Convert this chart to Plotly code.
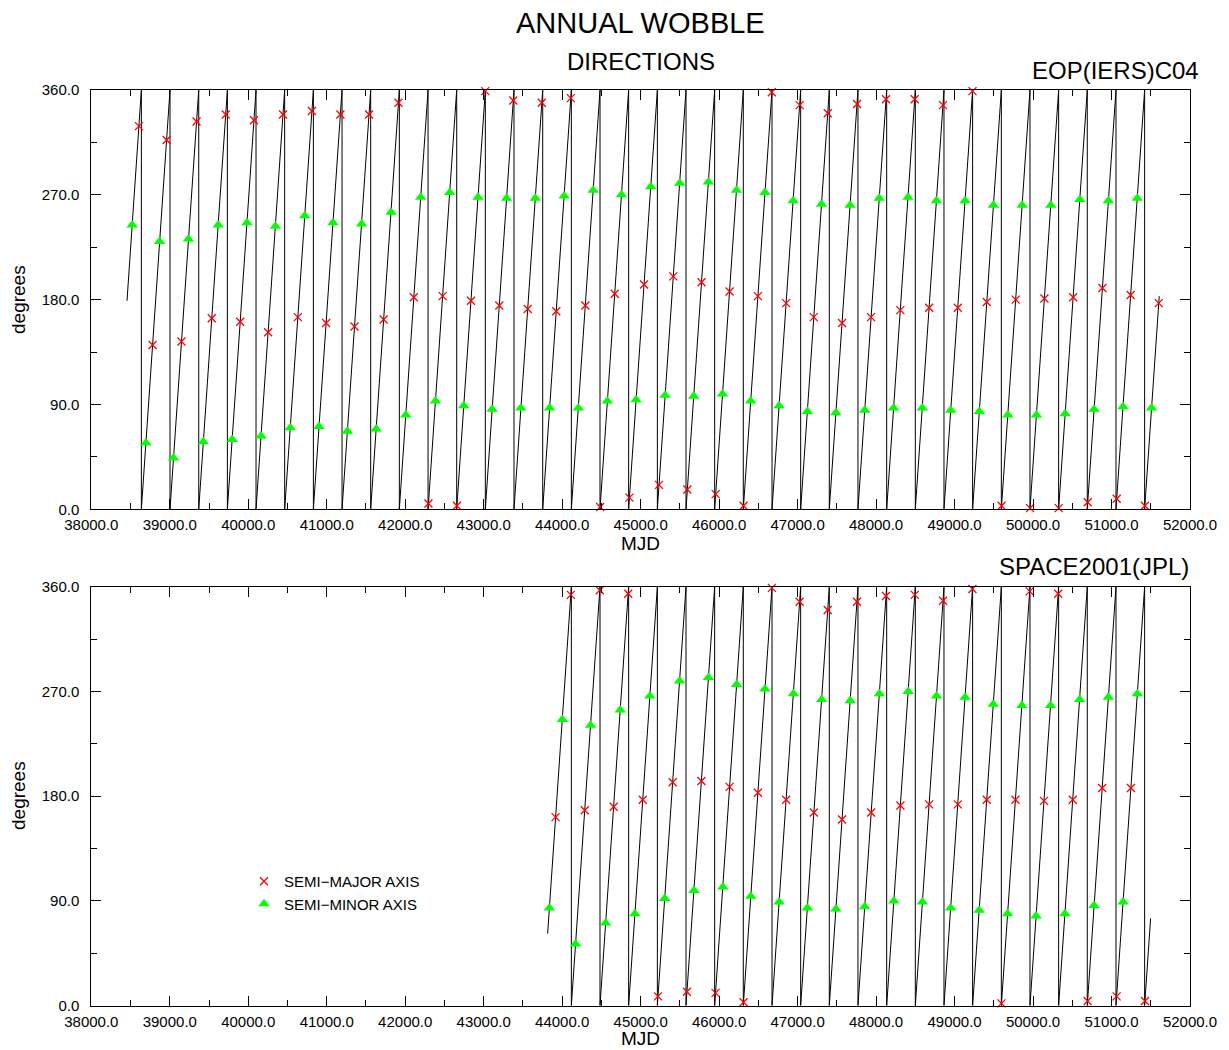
import plotly.graph_objects as go

# ---------------- data ----------------
# sawtooth phase line: MJD of each 360 -> 0 wrap, plus first / last point
top_wrap_mjd = [38638, 39003, 39369, 39734, 40099, 40464, 40830, 41195, 41560, 41925,
                42291, 42656, 43021, 43386, 43752, 44117, 44482, 44847, 45213, 45578,
                45943, 46308, 46674, 47039, 47404, 47769, 48135, 48500, 48865, 49230,
                49596, 49961, 50326, 50691, 51057, 51422]
top_start = (38455, 179)
top_end = (51608, 183)

bot_wrap_mjd = [44117, 44482, 44847, 45213, 45578, 45943, 46308, 46674, 47039, 47404,
                47769, 48135, 48500, 48865, 49230, 49596, 49961, 50326, 50691, 51057,
                51422]
bot_start = (43815, 62)
bot_end = (51498, 75)

# EOP(IERS)C04 directions
top_major_mjd = [38607, 38781, 38960, 39149, 39341, 39535, 39713, 39897, 40073, 40253,
                 40443, 40631, 40811, 40992, 41174, 41354, 41539, 41725, 41914, 42110,
                 42296, 42477, 42659, 42838, 43020, 43199, 43377, 43561, 43740, 43925,
                 44110, 44295, 44484, 44670, 44857, 45043, 45234, 45416, 45595, 45776,
                 45956, 46133, 46311, 46494, 46671, 46854, 47026, 47206, 47384, 47566,
                 47757, 47936, 48126, 48309, 48492, 48676, 48852, 49041, 49229, 49411,
                 49599, 49779, 49962, 50145, 50327, 50511, 50697, 50884, 51066, 51244,
                 51425, 51602]
top_major_deg = [329, 141, 317, 144, 333, 164, 339, 161, 334, 152,
                 339, 165, 342, 160, 339, 157, 339, 163, 349, 182,
                 5, 183, 3, 179, 359, 175, 351, 172, 349, 170,
                 353, 175, 2, 185, 10, 193, 21, 200, 17, 195,
                 13, 187, 3, 183, 358, 177, 347, 165, 340, 160,
                 348, 165, 352, 171, 352, 173, 347, 173, 359, 178,
                 3, 180, 1, 181, 1, 182, 6, 190, 9, 184,
                 3, 177]
top_minor_mjd = [38521, 38696, 38871, 39048, 39238, 39428, 39617, 39795, 39984, 40163,
                 40346, 40535, 40720, 40902, 41080, 41263, 41444, 41630, 41819, 42007,
                 42197, 42385, 42567, 42746, 42928, 43108, 43292, 43474, 43657, 43840,
                 44025, 44205, 44395, 44576, 44756, 44942, 45128, 45312, 45497, 45676,
                 45863, 46043, 46221, 46402, 46584, 46764, 46943, 47124, 47305, 47488,
                 47669, 47855, 48040, 48223, 48407, 48588, 48769, 48951, 49134, 49315,
                 49495, 49678, 49861, 50043, 50226, 50409, 50596, 50778, 50960, 51146,
                 51328, 51510]
top_minor_deg = [244, 57, 230, 44, 232, 58, 244, 60, 246, 63,
                 243, 70, 252, 71, 246, 67, 245, 69, 255, 81,
                 268, 93, 272, 89, 268, 86, 267, 87, 267, 87,
                 269, 87, 274, 93, 270, 94, 277, 98, 280, 97,
                 281, 99, 274, 93, 272, 89, 265, 84, 262, 83,
                 261, 85, 267, 87, 268, 87, 265, 85, 265, 84,
                 261, 81, 261, 81, 261, 82, 266, 86, 265, 88,
                 267, 87]

# SPACE2001(JPL) directions
bot_major_mjd = [43916, 44110, 44288, 44479, 44656, 44841, 45027, 45221, 45408, 45590,
                 45774, 45954, 46134, 46311, 46494, 46672, 46854, 47026, 47207, 47384,
                 47566, 47756, 47937, 48126, 48310, 48493, 48676, 48853, 49041, 49228,
                 49410, 49598, 49776, 49957, 50140, 50320, 50506, 50695, 50881, 51065,
                 51247, 51426]
bot_major_deg = [162, 353, 168, 357, 171, 354, 177, 8, 192, 12,
                 193, 11, 188, 3, 183, 359, 177, 347, 166, 340,
                 160, 347, 166, 352, 172, 353, 173, 348, 173, 358,
                 177, 2, 177, 356, 176, 354, 177, 4, 187, 8,
                 187, 4]
bot_minor_mjd = [43837, 44002, 44171, 44362, 44554, 44740, 44927, 45117, 45306, 45496,
                 45678, 45864, 46047, 46223, 46403, 46584, 46764, 46946, 47124, 47306,
                 47488, 47670, 47855, 48041, 48226, 48409, 48590, 48770, 48950, 49134,
                 49313, 49493, 49676, 49858, 50039, 50223, 50406, 50593, 50778, 50960,
                 51147, 51329]
bot_minor_deg = [84, 246, 53, 241, 71, 254, 79, 266, 92, 279,
                 99, 282, 102, 276, 94, 272, 89, 268, 84, 263,
                 83, 262, 85, 268, 90, 270, 89, 266, 84, 265,
                 82, 259, 79, 258, 77, 258, 79, 263, 86, 265,
                 89, 268]

x_range = [38000, 52000]
y_range = [0, 360]
major_name = "SEMI\u2212MAJOR AXIS"
minor_name = "SEMI\u2212MINOR AXIS"

FONT = "Liberation Sans, Arial, Helvetica, sans-serif"


def sawtooth(start, wraps, end):
    xs, ys = [start[0]], [start[1]]
    for w in wraps:
        xs += [w, w]
        ys += [y_range[1], y_range[0]]
    xs.append(end[0])
    ys.append(end[1])
    return xs, ys


fig = go.Figure()

panels = [
    ("x", "y", top_start, top_wrap_mjd, top_end, top_major_mjd, top_major_deg,
     top_minor_mjd, top_minor_deg, False),
    ("x2", "y2", bot_start, bot_wrap_mjd, bot_end, bot_major_mjd, bot_major_deg,
     bot_minor_mjd, bot_minor_deg, True),
]
for xa, ya, st, wr, en, mjx, mjy, mnx, mny, show in panels:
    lx, ly = sawtooth(st, wr, en)
    fig.add_trace(go.Scatter(x=lx, y=ly, xaxis=xa, yaxis=ya, mode="lines",
                             line=dict(color="black", width=1), showlegend=False,
                             hoverinfo="skip"))
    fig.add_trace(go.Scatter(x=mjx, y=mjy, xaxis=xa, yaxis=ya, mode="markers",
                             name=major_name, showlegend=show, cliponaxis=False,
                             marker=dict(symbol="x-thin", size=8, color="red",
                                         line=dict(color="red", width=1.3))))
    fig.add_trace(go.Scatter(x=mnx, y=mny, xaxis=xa, yaxis=ya, mode="markers",
                             name=minor_name, showlegend=show, cliponaxis=False,
                             marker=dict(symbol="triangle-up", size=10,
                                         color="#00ff00", line=dict(width=0))))

W, H = 1229, 1050
xdom = [91.3 / W, 1190 / W]
ydom_top = [1 - 509.3 / H, 1 - 90 / H]
ydom_bot = [1 - 1005.7 / H, 1 - 586.7 / H]

xax = dict(range=x_range, domain=xdom, tickmode="linear", tick0=38000, dtick=1000,
           tickformat=".1f", ticks="inside", ticklen=10, tickwidth=1, tickcolor="black",
           minor=dict(ticks="inside", ticklen=6, dtick=500, tickcolor="black", tickwidth=1),
           showline=True, linecolor="black", linewidth=1, mirror="ticks",
           showgrid=False, zeroline=False, ticklabelstandoff=2, automargin=False,
           tickfont=dict(family=FONT, size=15, color="black"))
yax = dict(range=y_range, tickmode="linear", tick0=0, dtick=90, tickformat=".1f",
           ticks="inside", ticklen=10, tickwidth=1, tickcolor="black",
           minor=dict(ticks="inside", ticklen=6, dtick=45, tickcolor="black", tickwidth=1),
           showline=True, linecolor="black", linewidth=1, mirror="ticks",
           showgrid=False, zeroline=False, ticklabelstandoff=8, automargin=False,
           tickfont=dict(family=FONT, size=15, color="black"))

fig.update_layout(
    template="none",
    width=W, height=H, margin=dict(l=0, r=0, t=0, b=0, pad=0), autosize=False,
    paper_bgcolor="white", plot_bgcolor="white",
    font=dict(family=FONT, color="black"),
    xaxis=dict(xax, anchor="y"),
    yaxis=dict(yax, domain=ydom_top, anchor="x"),
    xaxis2=dict(xax, anchor="y2"),
    yaxis2=dict(yax, domain=ydom_bot, anchor="x2"),
    legend=dict(x=244 / W, y=1 - 865 / H, xanchor="left", yanchor="top",
                bgcolor="rgba(0,0,0,0)", borderwidth=0,
                font=dict(family=FONT, size=15, color="black"),
                tracegroupgap=0),
    showlegend=True,
)


def ann(text, xpx, ypx, size, xanchor="center", angle=0):
    fig.add_annotation(text=text, x=xpx / W, y=1 - ypx / H, xref="paper", yref="paper",
                       xanchor=xanchor, yanchor="middle", showarrow=False, textangle=angle,
                       font=dict(family=FONT, size=size, color="black"))


ann("ANNUAL WOBBLE", 640.5, 23, 29)
ann("DIRECTIONS", 640.5, 62, 24)
ann("EOP(IERS)C04", 1201, 71, 24, xanchor="right")
ann("SPACE2001(JPL)", 1191, 566, 24, xanchor="right")
ann("MJD", 640, 543, 19)
ann("MJD", 640, 1038, 19)
ann("degrees", 18, 300, 19, angle=-90)
ann("degrees", 18, 796, 19, angle=-90)

fig.write_html("out.html")
